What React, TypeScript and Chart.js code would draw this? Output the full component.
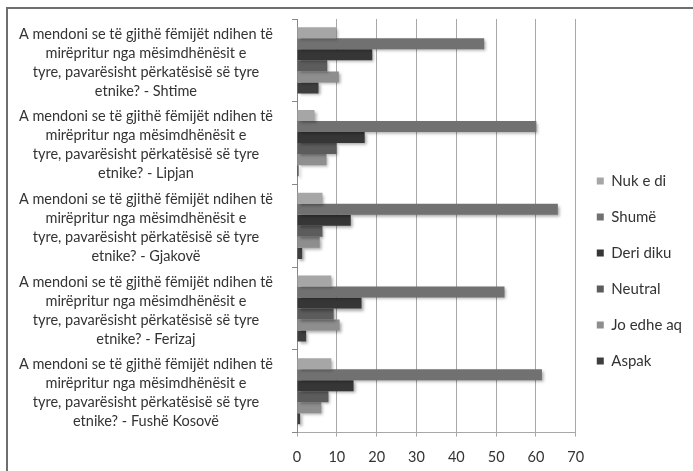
import React, { useEffect, useRef } from "react";
import { Chart, registerables } from "chart.js";

Chart.register(...registerables);

const QUESTION = [
  "A mendoni se të gjithë fëmijët ndihen të",
  "mirëpritur nga mësimdhënësit e",
  "tyre, pavarësisht përkatësisë së tyre",
];
const places = ["Shtime", "Lipjan", "Gjakovë", "Ferizaj", "Fushë Kosovë"];
const categories = places.map((p) => [...QUESTION, "etnike? - " + p]);

const seriesNames = ["Nuk e di", "Shumë", "Deri diku", "Neutral", "Jo edhe aq", "Aspak"];
const nukEDi = [9.9, 4.4, 6.4, 8.6, 8.6];
const shume = [47.0, 60.1, 65.5, 52.1, 61.5];
const deriDiku = [18.9, 17.0, 13.5, 16.2, 14.2];
const neutral = [7.6, 9.9, 6.4, 9.2, 7.9];
const joEdheAq = [10.5, 7.4, 5.7, 10.7, 6.1];
const aspak = [5.4, 0.4, 1.3, 2.3, 0.8];
const seriesValues = [nukEDi, shume, deriDiku, neutral, joEdheAq, aspak];
const seriesColors = ["#a6a6a6", "#717171", "#363636", "#5c5c5c", "#8e8e8e", "#3e3e3e"];

const xTicks = [0, 10, 20, 30, 40, 50, 60, 70];

const shadowPlugin = {
  id: "barShadow",
  beforeDatasetsDraw(chart: any) {
    const c = chart.ctx;
    c.save();
    c.shadowColor = "rgba(0,0,0,0.35)";
    c.shadowBlur = 3;
    c.shadowOffsetX = 2;
    c.shadowOffsetY = 2;
  },
  afterDatasetsDraw(chart: any) {
    chart.ctx.restore();
  },
};

const legendShiftPlugin = {
  id: "legendShift",
  afterLayout(chart: any) {
    const lg = chart.legend;
    if (!lg) return;
    const delta = 262 - (lg.top + lg.bottom) / 2;
    lg.top += delta;
    lg.bottom += delta;
  },
};

const FONT = "Lato";

export default function App() {
  const ref = useRef<HTMLCanvasElement | null>(null);
  useEffect(() => {
    document.body.style.margin = "0";
    const chart = new Chart(ref.current as HTMLCanvasElement, {
      type: "bar",
      data: {
        labels: categories,
        datasets: seriesNames.map((name, i) => ({
          label: name,
          data: seriesValues[i],
          backgroundColor: seriesColors[i],
          borderWidth: 0,
          categoryPercentage: 0.8,
          barPercentage: 1.0,
        })),
      },
      options: {
        indexAxis: "y",
        animation: false,
        responsive: false,
        maintainAspectRatio: false,
        layout: { padding: { left: 10, top: 10, right: 16, bottom: 31 } },
        plugins: {
          tooltip: { enabled: false },
          legend: {
            position: "right",
            labels: {
              boxWidth: 7,
              boxHeight: 7,
              padding: 21,
              color: "#333",
              font: { family: FONT, size: 15 },
            },
          },
        },
        scales: {
          x: {
            min: 0,
            max: 70,
            afterBuildTicks: (axis: any) => {
              axis.ticks = xTicks.map((v) => ({ value: v }));
            },
            afterFit: (axis: any) => {
              axis.paddingLeft = 0;
              axis.paddingRight = 0;
            },
            grid: { color: "#a8a8a8", lineWidth: 1, tickLength: 4, drawTicks: true },
            border: { color: "#a8a8a8" },
            ticks: { color: "#333", font: { family: FONT, size: 14.5 }, padding: 12 },
          },
          y: {
            afterFit: (axis: any) => {
              axis.width = 279;
              axis.paddingTop = 0;
              axis.paddingBottom = 0;
            },
            grid: { display: true, drawOnChartArea: false, color: "#888", tickLength: 5, offset: true },
            border: { color: "#888" },
            ticks: {
              crossAlign: "center",
              color: "#333",
              autoSkip: false,
              padding: 19,
              labelOffset: 2,
              font: { family: FONT, size: 14.5, lineHeight: 1.31 },
            },
          },
        },
      },
      plugins: [shadowPlugin, legendShiftPlugin],
    } as any);
    return () => chart.destroy();
  }, []);
  return (
    <div style={{ position: "fixed", left: 0, top: 0, width: 693, height: 471, background: "#fff", overflow: "hidden" }}>
      <div
        style={{
          position: "absolute",
          left: 6,
          top: 7,
          width: 720,
          height: 520,
          borderLeft: "2px solid #6e6e6e",
          borderTop: "2px solid #6e6e6e",
          boxSizing: "border-box",
        }}
      />
      <canvas ref={ref} width={700} height={500} style={{ position: "absolute", left: 8, top: 9 }} />
    </div>
  );
}
